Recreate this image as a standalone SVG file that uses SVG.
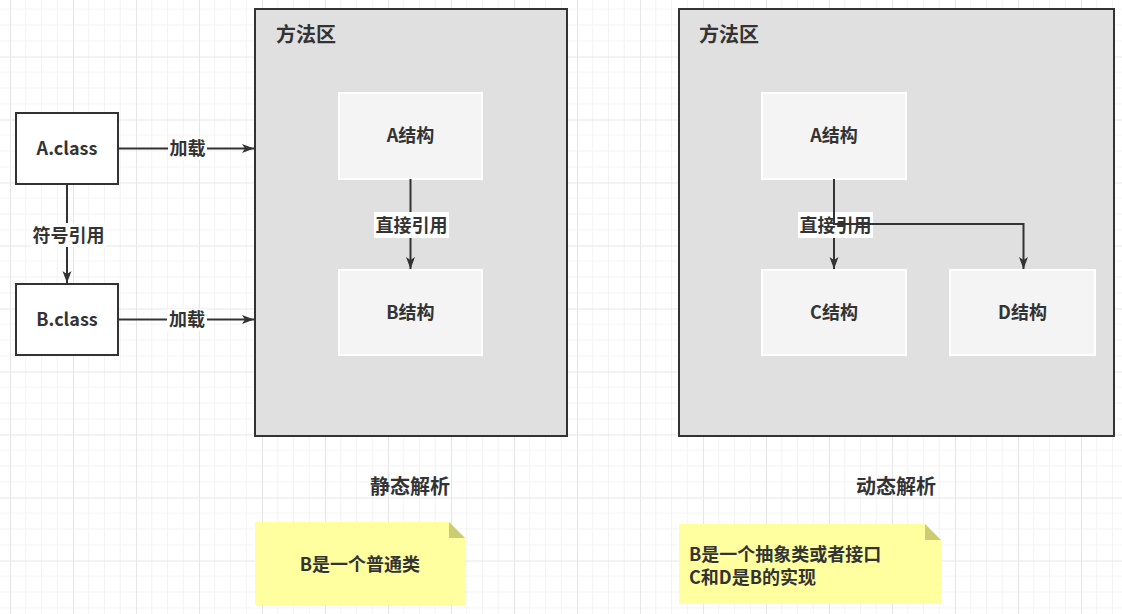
<svg xmlns="http://www.w3.org/2000/svg" width="1122" height="614" viewBox="0 0 1122 614">
<style>
text{font-family:"Noto Sans CJK SC","Noto Sans",sans-serif;font-weight:bold;fill:#333;}
.lbl{font-size:18px;text-anchor:middle;dominant-baseline:central;}
.ttl{font-size:20px;dominant-baseline:central;}
.nt{font-size:18px;dominant-baseline:central;}
.box{fill:#fff;stroke:#333;stroke-width:2;}
.area{fill:#e0e0e0;stroke:#333;stroke-width:2;}
.inner{fill:#f4f4f4;stroke:#fff;stroke-width:2;}
.edge{fill:none;stroke:#333;stroke-width:2;}
.lblbg{fill:#fff;}
.note{fill:#ffffa0;}
.fold{fill:#cccc72;}
</style>
<defs>
<pattern id="grid" patternUnits="userSpaceOnUse" x="10" y="-6.5" width="63" height="63">
<path d="M15.75 0V63M31.5 0V63M47.25 0V63M0 15.75H63M0 31.5H63M0 47.25H63" stroke="#f3f3f3" stroke-width="1" fill="none"/>
<path d="M0.5 0V63M0 0.5H63" stroke="#e6e6e6" stroke-width="1" fill="none"/>
</pattern>
<marker id="arr" markerUnits="userSpaceOnUse" markerWidth="14" markerHeight="10" refX="12" refY="4.5" orient="auto">
<path d="M0,0 L12,4.5 L0,9 L3,4.5 Z" fill="#333"/>
</marker>
</defs>
<rect x="0" y="0" width="1122" height="614" fill="#fff"/>
<rect x="0" y="0" width="1122" height="614" fill="url(#grid)"/>

<g id="area-left">
<rect class="area" x="255" y="9" width="312" height="427"/>
<text class="ttl" x="276" y="33">方法区</text>
</g>
<g id="area-right">
<rect class="area" x="679" y="9" width="435" height="427"/>
<text class="ttl" x="699" y="33">方法区</text>
</g>

<g id="a-class">
<rect class="box" x="16" y="113" width="102" height="71"/>
<text class="lbl" x="67" y="147">A.class</text>
</g>
<g id="b-class">
<rect class="box" x="16" y="284" width="102" height="71"/>
<text class="lbl" x="67" y="318">B.class</text>
</g>

<g id="a-struct-left">
<rect class="inner" x="339" y="93" width="143" height="86"/>
<text class="lbl" x="410.5" y="134">A结构</text>
</g>
<g id="b-struct-left">
<rect class="inner" x="339" y="270" width="143" height="85"/>
<text class="lbl" x="410.5" y="311">B结构</text>
</g>
<g id="a-struct-right">
<rect class="inner" x="762" y="93" width="144" height="86"/>
<text class="lbl" x="834" y="134">A结构</text>
</g>
<g id="c-struct">
<rect class="inner" x="762" y="270" width="144" height="85"/>
<text class="lbl" x="834" y="311">C结构</text>
</g>
<g id="d-struct">
<rect class="inner" x="950" y="270" width="145" height="85"/>
<text class="lbl" x="1022.5" y="311">D结构</text>
</g>

<g id="connectors">
<path class="edge" d="M118 148.5H254" marker-end="url(#arr)"/>
<rect class="lblbg" x="168" y="138" width="39" height="22"/>
<text class="lbl" x="187.5" y="147">加载</text>

<path class="edge" d="M118 319.5H254" marker-end="url(#arr)"/>
<rect class="lblbg" x="167" y="309" width="40" height="22"/>
<text class="lbl" x="187" y="318">加载</text>

<path class="edge" d="M67 184V283" marker-end="url(#arr)"/>
<rect class="lblbg" x="31" y="223" width="75" height="24"/>
<text class="lbl" x="68.5" y="233.5">符号引用</text>

<path class="edge" d="M410.5 179V269" marker-end="url(#arr)"/>
<rect class="lblbg" x="374" y="212" width="75" height="26"/>
<text class="lbl" x="411.5" y="223.5">直接引用</text>

<path class="edge" d="M834 179V269" marker-end="url(#arr)"/>
<rect class="lblbg" x="798" y="212" width="75" height="26"/>
<text class="lbl" x="835.5" y="223.5">直接引用</text>
<path class="edge" d="M834 179V224H1023.5V269" marker-end="url(#arr)"/>
</g>

<g id="caption-static">
<text class="ttl" x="410" y="485" text-anchor="middle">静态解析</text>
</g>
<g id="caption-dynamic">
<text class="ttl" x="896" y="485" text-anchor="middle">动态解析</text>
</g>

<g id="note-static">
<path class="note" d="M255 522H449L465 538V605H255Z"/>
<path class="fold" d="M449 522L465 538H449Z"/>
<text class="lbl" x="360" y="562.5">B是一个普通类</text>
</g>
<g id="note-dynamic">
<path class="note" d="M679 524H925L941 540V604H679Z"/>
<path class="fold" d="M925 524L941 540H925Z"/>
<text class="nt" x="689" y="553">B是一个抽象类或者接口</text>
<text class="nt" x="689" y="576">C和D是B的实现</text>
</g>
</svg>
